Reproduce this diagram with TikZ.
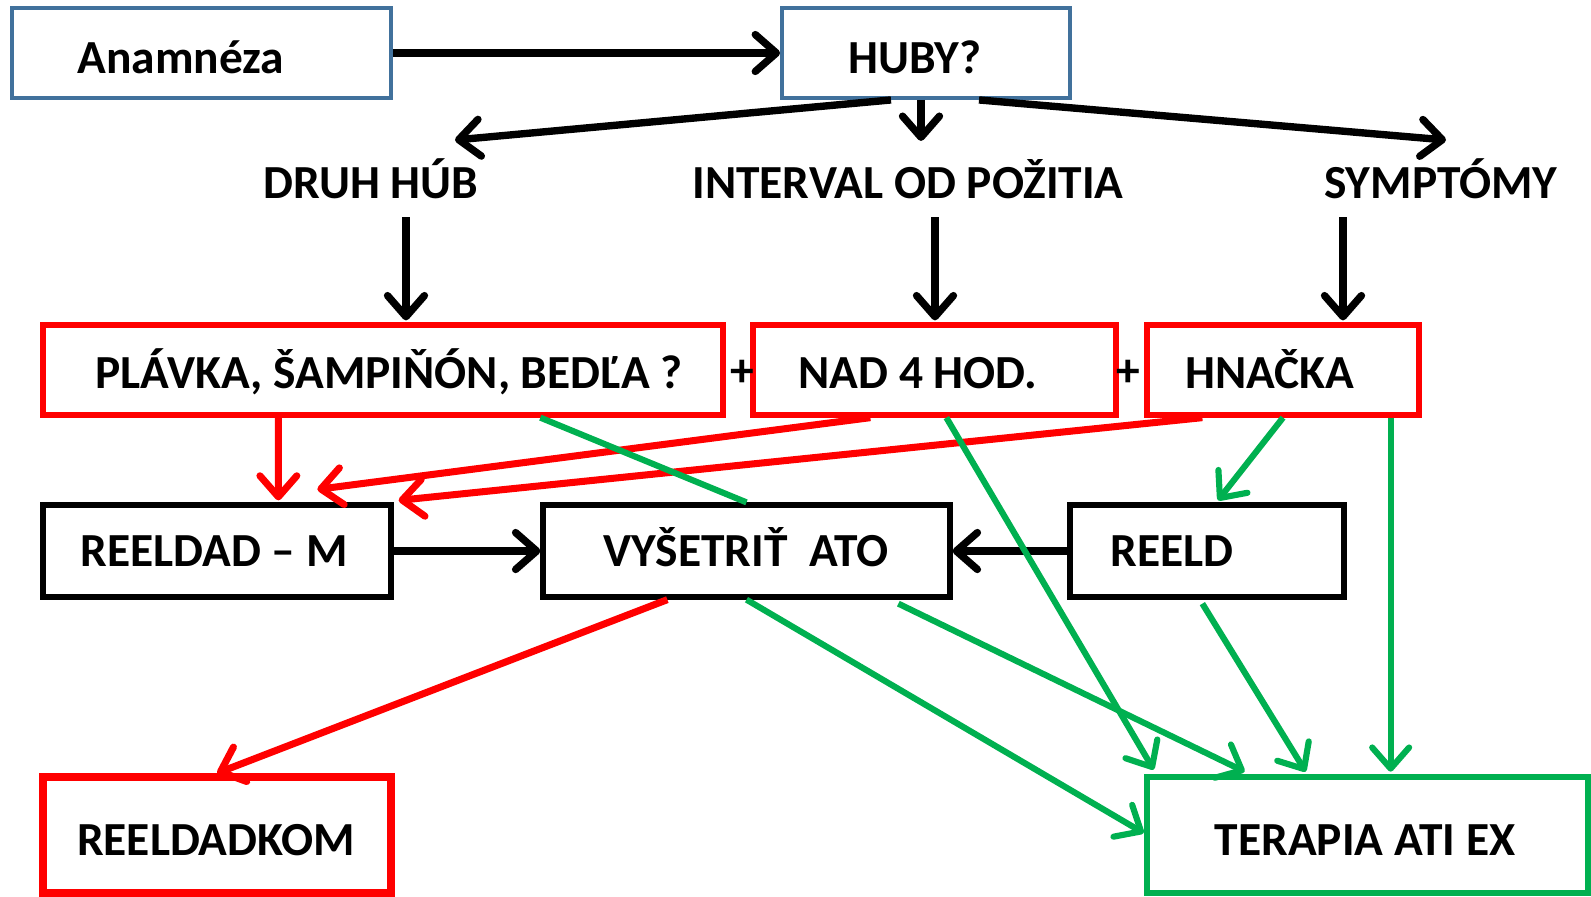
\documentclass[tikz,border=0pt]{standalone}
\usepackage{fontspec}
\setmainfont{Carlito}
\usetikzlibrary{arrows.meta,calc}
\definecolor{bbl}{HTML}{41719C}
\definecolor{rred}{HTML}{FF0000}
\definecolor{ggr}{HTML}{00B050}
\tikzset{
  box/.style={draw, line width=1.3pt, fill=white, inner sep=0pt},
  bluebox/.style={box, draw=bbl, line width=1.1pt},
  redbox/.style={box, draw=rred, line width=1.5pt},
  blackbox/.style={box, draw=black, line width=1.5pt},
  txt/.style={inner sep=0pt, anchor=base, font=\fontsize{13.5}{16}\selectfont\bfseries},
  tip/.style={-{Straight Barb[length=6pt,width=10.5pt,line cap=round,line join=round]}},
  blk/.style={tip, draw=black, line width=2.1pt},
  rln/.style={tip, draw=rred, line width=2.0pt},
  gln/.style={tip, draw=ggr, line width=1.75pt},
}
\begin{document}
\begin{tikzpicture}[x=0.1mm,y=-0.1mm]
\useasboundingbox (0,0) rectangle (1591,896);
% row 0
\node[bluebox, minimum width=37.9mm, minimum height=9.0mm] (ana) at (201.5,53) {};
\node[txt] (anat) at (181,73) {Anamnéza};
\node[bluebox, minimum width=28.8mm, minimum height=9.0mm] (huby) at (926,53) {};
\node[txt] (hubyt) at (915,73) {HUBY?};
% row 1 labels
\node[txt] (druh) at (371,198) {DRUH HÚB};
\node[txt] (interval) at (908,198) {INTERVAL OD POŽITIA};
\node[txt] (symp) at (1441,198) {SYMPTÓMY};
% row 2
\node[redbox, minimum width=68.0mm, minimum height=9.0mm] (plavka) at (383,370) {};
\node[txt] (plavkat) at (389,388) {PLÁVKA, ŠAMPIŇÓN, BEDĽA ?};
\node[redbox, minimum width=36.3mm, minimum height=9.0mm] (nad) at (934.5,370) {};
\node[txt] (nadt) at (918,388) {NAD 4 HOD.};
\node[redbox, minimum width=27.2mm, minimum height=9.0mm] (hnacka) at (1283,370) {};
\node[txt] (hnackat) at (1270,388) {HNAČKA};
\node[txt] (plus1) at (742,386) {+};
\node[txt] (plus2) at (1128,386) {+};
% row 3
\node[blackbox, minimum width=34.8mm, minimum height=9.2mm] (rm) at (217,551) {};
\node[txt] (rmt) at (214,566) {REELDAD – M};
\node[blackbox, minimum width=40.7mm, minimum height=9.2mm] (vys) at (746.5,551) {};
\node[txt] (vyst) at (746,566) {VYŠETRIŤ\ \ ATO};
\node[blackbox, minimum width=27.4mm, minimum height=9.2mm] (reeld) at (1207,551) {};
\node[txt] (reeldt) at (1172,566) {REELD};
% row 4
\node[box, draw=rred, line width=2.2pt, minimum width=34.8mm, minimum height=11.6mm] (kom) at (217,835) {};
\node[txt] (komt) at (216,855) {REELDADKOM};
\node[box, draw=ggr, line width=1.9pt, minimum width=44.1mm, minimum height=11.6mm] (ter) at (1367.5,835) {};
\node[txt] (tert) at (1365,855) {TERAPIA ATI EX};

% helper coordinates
\coordinate (hv) at ($(hnacka.south east)+(-31,0)$);

% black arrows
\draw[blk] (ana.east) -- (huby.west);
\draw[blk] ($(huby.south)+(-35,0)$) -- (455,140);
\draw[blk] ($(huby.south)+(-5,0)$) -- ($(huby.south)+(-5,41)$);
\draw[blk] ($(huby.south)+(53,0)$) -- (1446,140);
\draw[blk] ($(plavka.north)+(23,-105)$) -- ($(plavka.north)+(23,-2)$);
\draw[blk] ($(nad.north)+(0.5,-105)$) -- ($(nad.north)+(0.5,-2)$);
\draw[blk] ($(hnacka.north)+(60,-105)$) -- ($(hnacka.north)+(60,-2)$);
\draw[blk] (rm.east) -- (vys.west);
\draw[blk] (reeld.west) -- (vys.east);

% red arrows
\draw[rln] ($(plavka.south west)+(238,0)$) -- ($(rm.north west)+(238,-2)$);
\draw[rln] ($(nad.south west)+(120,0)$) -- ($(rm.north west)+(277,-13)$);
\draw[rln] ($(hnacka.south west)+(58,0)$) -- ($(rm.north east)+(5,-2)$);
\draw[rln] ($(vys.south west)+(127,0)$) -- ($(kom.north west)+(178,0)$);

% green lines
\draw[ggr, line width=1.75pt] ($(plavka.south west)+(500,0)$) -- (vys.north);
\draw[gln] ($(nad.south west)+(196,0)$) -- ($(ter.north west)+(10,-4)$);
\draw[gln] (hnacka.south) -- ($(reeld.north)+(11,-2)$);
\draw[gln] (hv) -- ($(hv |- ter.north)+(0,-2)$);
\draw[gln] (vys.south) -- ($(ter.west)+(0,-2)$);
\draw[gln] ($(vys.south west)+(358,4)$) -- ($(ter.north west)+(101,-2)$);
\draw[gln] ($(reeld.south west)+(135,4)$) -- ($(ter.north west)+(162,-2)$);
\end{tikzpicture}
\end{document}
